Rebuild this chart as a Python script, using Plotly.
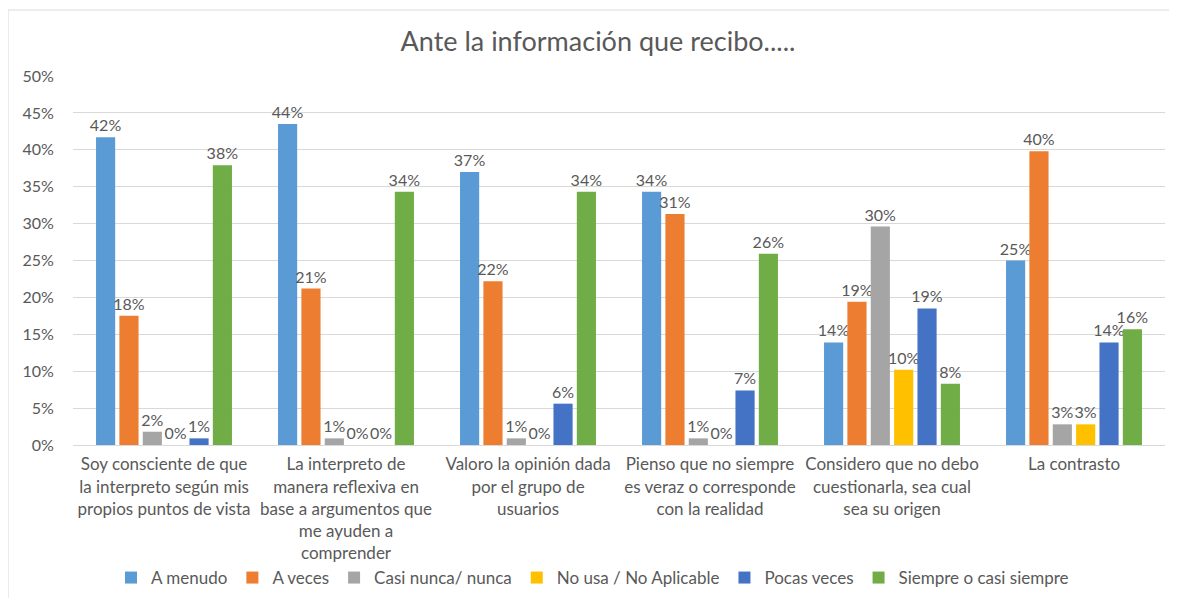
import plotly.graph_objects as go

categories = [
    "Soy consciente de que<br>la interpreto según mis<br>propios puntos de vista",
    "La interpreto de<br>manera reflexiva en<br>base a argumentos que<br>me ayuden a<br>comprender",
    "Valoro la opinión dada<br>por el grupo de<br>usuarios",
    "Pienso que no siempre<br>es veraz o corresponde<br>con la realidad",
    "Considero que no debo<br>cuestionarla, sea cual<br>sea su origen",
    "La contrasto",
]

a_menudo = [0.417, 0.435, 0.370, 0.343, 0.139, 0.250]
a_veces = [0.175, 0.212, 0.222, 0.313, 0.194, 0.398]
casi_nunca = [0.018, 0.009, 0.009, 0.009, 0.296, 0.028]
no_usa = [0.0, 0.0, 0.0, 0.0, 0.102, 0.028]
pocas_veces = [0.009, 0.0, 0.056, 0.074, 0.185, 0.139]
siempre = [0.379, 0.343, 0.343, 0.259, 0.083, 0.157]

series = [
    ("A menudo", a_menudo, "#5B9BD5"),
    ("A veces", a_veces, "#ED7D31"),
    ("Casi nunca/ nunca", casi_nunca, "#A5A5A5"),
    ("No usa / No Aplicable", no_usa, "#FFC000"),
    ("Pocas veces", pocas_veces, "#4472C4"),
    ("Siempre o casi siempre", siempre, "#70AD47"),
]

FONT = "Lato"
GRAY = "#595959"

fig = go.Figure()
for name, vals, color in series:
    fig.add_trace(go.Bar(
        name=name, x=categories, y=vals,
        marker=dict(color=color, line=dict(width=0)),
        texttemplate="%{y:.0%}", textposition="outside",
        constraintext="none", cliponaxis=False,
        textfont=dict(family=FONT, size=16, color=GRAY),
    ))

# page body has an 8px margin: figure coords = screen coords - 8
W, H = 1169, 590
L, R, T, B = 65, 12, 68, 153
fig.update_layout(
    width=W, height=H,
    paper_bgcolor="white", plot_bgcolor="white",
    margin=dict(l=L, r=R, t=T, b=B, autoexpand=False),
    barmode="group", bargap=0.23, bargroupgap=0.18,
    title=dict(text="Ante la información que recibo.....", x=590 / W, xanchor="center",
               xref="container", yref="container",
               y=1 - 34 / H, yanchor="middle",
               font=dict(family=FONT, size=27, color=GRAY)),
    font=dict(family=FONT, color=GRAY),
    legend=dict(orientation="h", x=0.5, xanchor="center", xref="container",
                yref="container", y=1 - 570 / H, yanchor="middle",
                bgcolor="rgba(0,0,0,0)",
                font=dict(family=FONT, size=17, color=GRAY), traceorder="normal"),
    xaxis=dict(tickfont=dict(family=FONT, size=17, color=GRAY), showline=True,
               linecolor="#D9D9D9", ticks="", automargin=False, ticklabelstandoff=4),
    yaxis=dict(range=[0, 0.5], dtick=0.05, tickformat=".0%", showgrid=True,
               gridcolor="#D9D9D9", zeroline=False, automargin=False,
               tickfont=dict(family=FONT, size=16, color=GRAY),
               ticks="outside", ticklen=15, tickcolor="rgba(0,0,0,0)"),
    shapes=[dict(type="rect", xref="paper", yref="paper",
                 x0=-65 / 1092, x1=1.0 + 20 / 1092, y0=-160 / 369, y1=1 + 66 / 369,
                 line=dict(color="#D9D9D9", width=1), fillcolor="rgba(0,0,0,0)")],
)

fig.write_html("out.html")
